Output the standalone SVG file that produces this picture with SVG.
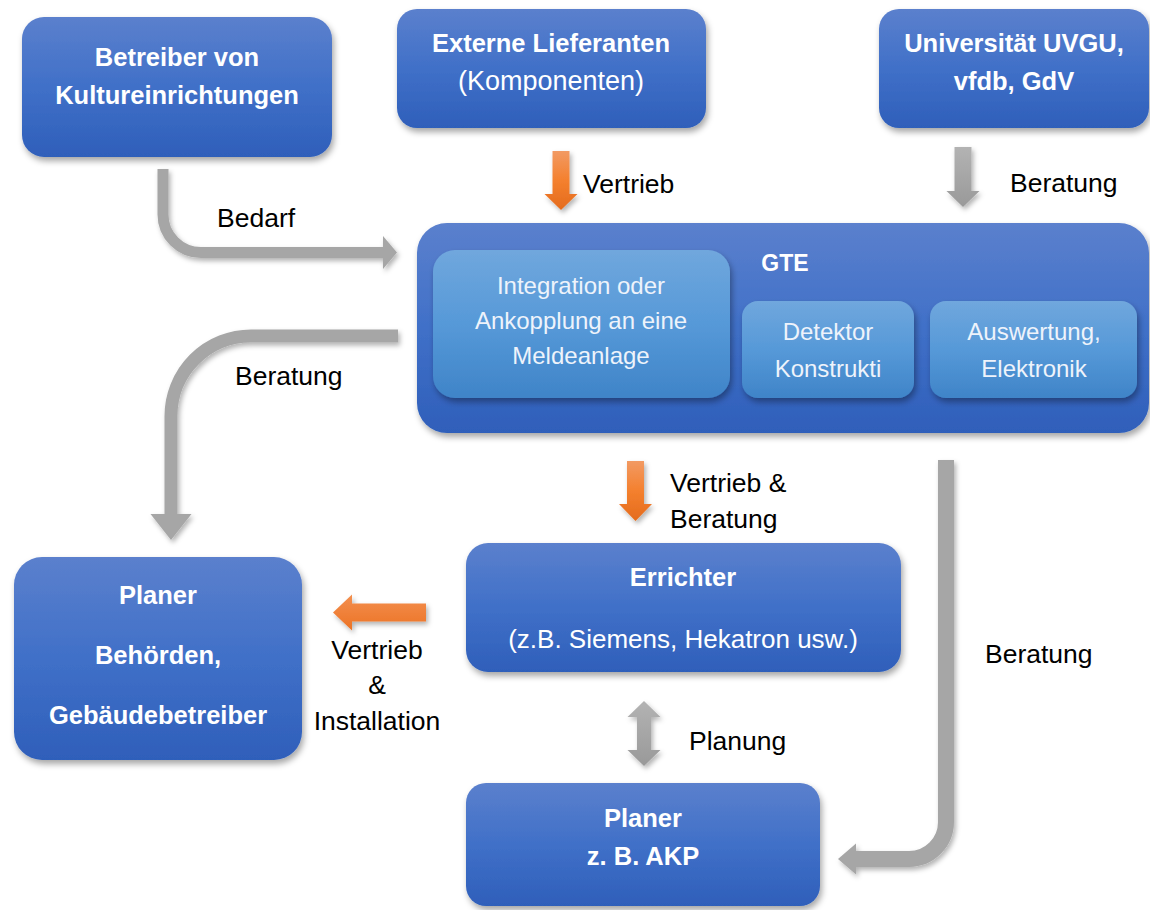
<svg xmlns="http://www.w3.org/2000/svg" width="1150" height="910" viewBox="0 0 1150 910">
<defs>
<linearGradient id="gBox" x1="0" y1="0" x2="0" y2="1">
<stop offset="0" stop-color="#5b80cd"/>
<stop offset="0.5" stop-color="#4070c8"/>
<stop offset="1" stop-color="#2f5fba"/>
</linearGradient>
<linearGradient id="gSub" x1="0" y1="0" x2="0" y2="1">
<stop offset="0" stop-color="#70a7dd"/>
<stop offset="0.5" stop-color="#5699d8"/>
<stop offset="1" stop-color="#3f84c8"/>
</linearGradient>
<linearGradient id="gOrange" x1="0" y1="0" x2="0" y2="1">
<stop offset="0" stop-color="#f29a63"/>
<stop offset="0.5" stop-color="#f4802e"/>
<stop offset="1" stop-color="#e46b1d"/>
</linearGradient>
<linearGradient id="gOrangeH" x1="0" y1="0" x2="0" y2="1">
<stop offset="0" stop-color="#f38f4f"/>
<stop offset="1" stop-color="#ec7325"/>
</linearGradient>
<linearGradient id="gGray" x1="0" y1="0" x2="0" y2="1">
<stop offset="0" stop-color="#b3b3b3"/>
<stop offset="1" stop-color="#999999"/>
</linearGradient>
<filter id="sh" x="-20%" y="-20%" width="140%" height="150%">
<feDropShadow dx="2" dy="4" stdDeviation="3" flood-color="#000" flood-opacity="0.35"/>
</filter>
<filter id="shA" x="-50%" y="-50%" width="200%" height="200%">
<feDropShadow dx="2" dy="3" stdDeviation="2.5" flood-color="#000" flood-opacity="0.3"/>
</filter>
</defs>
<style>
.box{fill:url(#gBox);filter:url(#sh)}
.sub{fill:url(#gSub);filter:url(#sh)}
.bt{font-family:"Liberation Sans",Arial,sans-serif;font-weight:bold;font-size:25.5px;fill:#ffffff;text-anchor:middle}
.rt{font-family:"Liberation Sans",Arial,sans-serif;font-size:27px;fill:#ffffff;text-anchor:middle}
.st{font-family:"Liberation Sans",Arial,sans-serif;font-size:24px;fill:#eef3fb;text-anchor:middle}
.lb{font-family:"Liberation Sans",Arial,sans-serif;font-size:26.5px;fill:#000000}
.gs{fill:none;stroke:#a6a6a6;stroke-linecap:butt}
.gh{fill:#a6a6a6}
</style>
<rect width="1150" height="910" fill="#ffffff"/>

<g id="connectors">
<g filter="url(#shA)">
<path class="gs" d="M163,169 V214.5 A38,38 0 0 0 201,252.5 H384" stroke-width="11"/>
<polygon class="gh" points="383,236 397,252.5 383,269"/>
</g>
<polygon points="552.5,151 569.5,151 569.5,194 577.5,194 561,210 544.5,194 552.5,194" fill="url(#gOrange)" filter="url(#shA)"/>
<polygon points="954.5,147 971.5,147 971.5,191 979.5,191 963,207 946.5,191 954.5,191" fill="url(#gGray)" filter="url(#shA)"/>
<g filter="url(#shA)">
<path class="gs" d="M398,336 H251 A80,80 0 0 0 171,416 V514" stroke-width="13"/>
<polygon class="gh" points="150.5,514 191.5,514 171,540"/>
</g>
<polygon points="627,461 644,461 644,504 652,504 635.5,521 619,504 627,504" fill="url(#gOrange)" filter="url(#shA)"/>
<polygon points="426,603.5 426,621.5 352,621.5 352,630.5 333,612.5 352,594.5 352,603.5" fill="url(#gOrangeH)" filter="url(#shA)"/>
<polygon points="644,701 660.5,717 651,717 651,750 660.5,750 644,766 627.5,750 637,750 637,717 627.5,717" fill="url(#gGray)" filter="url(#shA)"/>
<g filter="url(#shA)">
<path class="gs" d="M946,460 V822 A37,37 0 0 1 909,859 H855" stroke-width="16"/>
<polygon class="gh" points="856,843.5 838,859 856,874.5"/>
</g>
<text class="lb" x="217" y="227">Bedarf</text>
<text class="lb" x="583" y="193">Vertrieb</text>
<text class="lb" x="1010" y="192">Beratung</text>
<text class="lb" x="235" y="385">Beratung</text>
<text class="lb" x="670" y="492">Vertrieb &amp;</text>
<text class="lb" x="670" y="528">Beratung</text>
<text class="lb" x="377" y="659" text-anchor="middle">Vertrieb</text>
<text class="lb" x="377" y="694" text-anchor="middle">&amp;</text>
<text class="lb" x="377" y="730" text-anchor="middle">Installation</text>
<text class="lb" x="689" y="750">Planung</text>
<text class="lb" x="985" y="663">Beratung</text>
</g>

<g id="node-betreiber">
<rect class="box" x="22" y="17" width="310" height="140" rx="22"/>
<text class="bt" x="177" y="66">Betreiber von</text>
<text class="bt" x="177" y="104">Kultureinrichtungen</text>
</g>

<g id="node-lieferanten">
<rect class="box" x="397" y="9" width="309" height="119" rx="20"/>
<text class="bt" x="551" y="52">Externe Lieferanten</text>
<text class="rt" x="551" y="90">(Komponenten)</text>
</g>

<g id="node-universitaet">
<rect class="box" x="879" y="9" width="270" height="119" rx="20"/>
<text class="bt" x="1014" y="52">Universität UVGU,</text>
<text class="bt" x="1014" y="90">vfdb, GdV</text>
</g>

<g id="node-gte">
<rect class="box" x="417" y="223" width="732" height="210" rx="30"/>
<text class="bt" x="785" y="271" style="font-size:23px">GTE</text>
<g id="node-integration">
<rect class="sub" x="433" y="250" width="297" height="148" rx="22"/>
<text class="st" x="581" y="294">Integration oder</text>
<text class="st" x="581" y="329">Ankopplung an eine</text>
<text class="st" x="581" y="364">Meldeanlage</text>
</g>
<g id="node-detektor">
<rect class="sub" x="742" y="301" width="172" height="97" rx="16"/>
<text class="st" x="828" y="340">Detektor</text>
<text class="st" x="828" y="377">Konstrukti</text>
</g>
<g id="node-auswertung">
<rect class="sub" x="930" y="301" width="207" height="97" rx="16"/>
<text class="st" x="1034" y="340">Auswertung,</text>
<text class="st" x="1034" y="377">Elektronik</text>
</g>
</g>

<g id="node-planer-behoerden">
<rect class="box" x="14" y="557" width="288" height="203" rx="28"/>
<text class="bt" x="158" y="604">Planer</text>
<text class="bt" x="158" y="664">Behörden,</text>
<text class="bt" x="158" y="724">Gebäudebetreiber</text>
</g>

<g id="node-errichter">
<rect class="box" x="466" y="543" width="435" height="129" rx="22"/>
<text class="bt" x="683" y="586">Errichter</text>
<text class="rt" x="683" y="648" style="font-size:26px">(z.B. Siemens, Hekatron usw.)</text>
</g>

<g id="node-planer-akp">
<rect class="box" x="466" y="783" width="354" height="123" rx="20"/>
<text class="bt" x="643" y="827">Planer</text>
<text class="bt" x="643" y="865">z. B. AKP</text>
</g>
</svg>
